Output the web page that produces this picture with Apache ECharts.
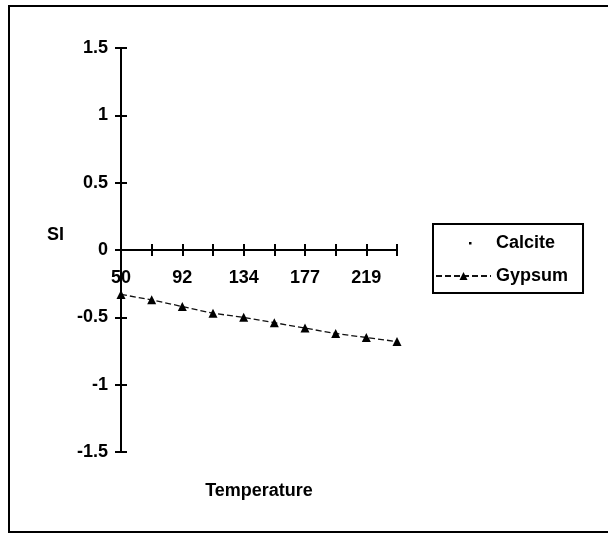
<!DOCTYPE html>
<html lang="en">
<head>
    <meta charset="utf-8">
    <title>SI vs Temperature</title>
    <script src="https://cdn.jsdelivr.net/npm/echarts@6/dist/echarts.min.js"></script>
    <style type="text/css">
        html, body {
            width: 100%;
            height: 100%;
            margin: 0px;
            padding: 0px;
            background: #fff;
        }

        #main {
            width: 608px;
            height: 540px;
        }
    </style>
</head>
<body>
<div id="main"></div>
<script>
    // data
    var temperatures = ['50', '71', '92', '113', '134', '156', '177', '198', '219', '240'];
    var gypsumSI = [-0.33, -0.37, -0.42, -0.47, -0.50, -0.54, -0.58, -0.62, -0.65, -0.68];
    var calciteSI = [null, null, null, null, null, null, null, null, null, null]; // not visible in the plot
    var seriesNames = ['Calcite', 'Gypsum'];

    var FONT = 'Liberation Sans';
    var txt = {fontFamily: FONT, fontWeight: 'bold', fontSize: 18, color: '#000'};

    var myChart = echarts.init(document.getElementById('main'));

    // tiny dot for the Calcite legend entry (bounds padded so the dot stays small)
    var dotIcon = 'path://M0,0L0,0M55,10L55,10M33,4L35.5,4L35.5,6.5L33,6.5Z';

    // grid: top 48, bottom 88 -> plot height 404, y=0 sits half way up
    var GRID_H = 540 - 48 - 88;
    var zeroOffset = -GRID_H / 2;

    var option = {
        backgroundColor: '#fff',
        animation: false,
        grid: {left: 121, right: 211, top: 48, bottom: 88, containLabel: false, outerBoundsMode: 'none'},
        legend: {
            orient: 'vertical',
            left: 433,
            top: 224,
            padding: [10, 15, 8, 2],
            itemGap: 15,
            itemWidth: 55,
            itemHeight: 10,
            borderColor: '#000',
            borderWidth: 2,
            textStyle: txt,
            data: [
                {name: seriesNames[0], icon: dotIcon},
                {name: seriesNames[1]}
            ]
        },
        xAxis: [{
            type: 'category',
            position: 'bottom',
            offset: zeroOffset,
            data: temperatures,
            boundaryGap: false,
            name: 'Temperature',
            nameLocation: 'middle',
            nameGap: 232,
            nameTextStyle: txt,
            axisLine: {onZero: false, lineStyle: {color: '#000', width: 2}},
            axisTick: {show: true, inside: false, length: 6, interval: 0, lineStyle: {color: '#000', width: 2}},
            axisLabel: Object.assign({interval: 1, margin: 19}, txt),
            splitLine: {show: false}
        }, {
            type: 'category',
            position: 'bottom',
            offset: zeroOffset,
            data: temperatures,
            boundaryGap: false,
            axisLine: {onZero: false, lineStyle: {color: '#000', width: 2}},
            axisTick: {show: true, inside: true, length: 6, interval: 0, lineStyle: {color: '#000', width: 2}},
            axisLabel: {show: false},
            splitLine: {show: false}
        }],
        yAxis: [{
            type: 'value',
            position: 'left',
            min: -1.5,
            max: 1.5,
            interval: 0.5,
            name: 'SI',
            nameLocation: 'middle',
            nameRotate: 0,
            nameGap: 57,
            nameTextStyle: Object.assign({verticalAlign: 'bottom', padding: [0, 0, 6, 0]}, txt),
            axisLine: {show: true, lineStyle: {color: '#000', width: 2}},
            axisTick: {show: true, inside: false, length: 6, lineStyle: {color: '#000', width: 2}},
            axisLabel: Object.assign({margin: 13}, txt),
            splitLine: {show: false}
        }, {
            type: 'value',
            position: 'left',
            min: -1.5,
            max: 1.5,
            interval: 0.5,
            axisLine: {show: true, lineStyle: {color: '#000', width: 2}},
            axisTick: {show: true, inside: true, length: 6, lineStyle: {color: '#000', width: 2}},
            axisLabel: {show: false},
            splitLine: {show: false}
        }],
        graphic: [{
            type: 'rect',
            shape: {x: 9, y: 6, width: 640, height: 526},
            style: {fill: 'none', stroke: '#000', lineWidth: 2},
            silent: true
        }],
        series: [{
            name: seriesNames[0],
            type: 'line',
            data: calciteSI,
            symbol: 'circle',
            symbolSize: 2,
            itemStyle: {color: '#000'},
            lineStyle: {color: '#000', width: 1, type: 'dotted'}
        }, {
            name: seriesNames[1],
            type: 'line',
            data: gypsumSI,
            symbol: 'triangle',
            symbolSize: 9,
            itemStyle: {color: '#000'},
            lineStyle: {color: '#111', width: 1.3, type: [6, 3]}
        }]
    };

    myChart.setOption(option);
</script>
</body>
</html>
